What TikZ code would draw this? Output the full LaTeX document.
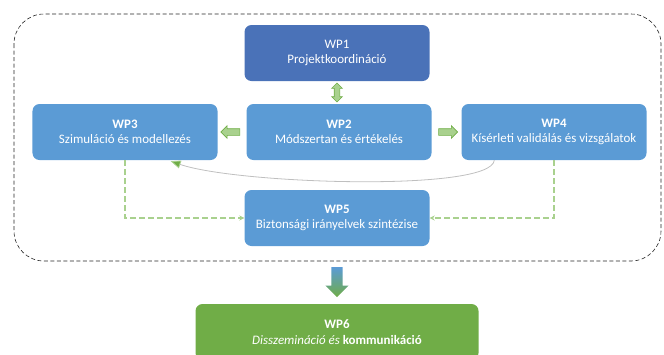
\documentclass[tikz,border=0pt]{standalone}
\usepackage{fontspec}
\setmainfont{Carlito}
\usetikzlibrary{shapes.arrows,arrows.meta,calc}
\definecolor{wpblue}{HTML}{5B9BD5}
\definecolor{wpdark}{HTML}{4A72B8}
\definecolor{wpgreen}{HTML}{70AD47}
\definecolor{lgreen}{HTML}{A9D18E}
\definecolor{frame}{HTML}{262626}
\tikzset{
  wpbox/.style={rounded corners=7bp, fill=wpblue, text=white, align=center,
    minimum width=185bp, minimum height=56bp, inner sep=0pt, font=\fontsize{13}{15.5}\selectfont},
  harrow/.style={single arrow, draw=wpgreen, fill=lgreen, line width=0.6bp,
    minimum width=12bp, minimum height=19bp, single arrow head extend=3bp, inner sep=3bp},
  vdarrow/.style={double arrow, draw=wpgreen, fill=lgreen, line width=0.6bp,
    minimum width=10bp, minimum height=19bp, double arrow head extend=2.5bp, inner sep=2.5bp,
    shape border rotate=90},
  dashlink/.style={draw=lgreen, line width=1.3bp, dash pattern=on 6bp off 3bp,
    -{Stealth[length=5bp,width=5bp,fill=wpgreen]}},
}
\begin{document}
\begin{tikzpicture}[x=1bp,y=-1bp]
\useasboundingbox (0,0) rectangle (664,354);
\clip (0,0) rectangle (664,354);
% frame
\draw[frame, dash pattern=on 4bp off 2.5bp, line width=0.6bp, rounded corners=30bp]
  (14,14) rectangle (661,261);
% boxes
\node[wpbox, fill=wpdark] (wp1) at (337,53) {WP1\\Projektkoordináció};
\node[wpbox] (wp2) at (339,132) {\textbf{WP2}\\Módszertan és értékelés};
\node[wpbox] (wp3) at (125,132) {\textbf{WP3}\\Szimuláció és modellezés};
\node[wpbox] (wp4) at (554,132) {\textbf{WP4}\\Kísérleti validálás és vizsgálatok};
\node[wpbox] (wp5) at (337,218) {\textbf{WP5}\\Biztonsági irányelvek szintézise};
\node[wpbox, fill=wpgreen, minimum width=283bp] (wp6) at (337,332)
  {\textbf{WP6}\\\textit{Disszemináció és} \textbf{kommunikáció}};
% block arrows
\node[vdarrow] (a12) at ($(wp1.south)!0.5!(wp2.north -| wp1.south)$) {};
\node[harrow, shape border rotate=180] (a23) at ($(wp2.west)!0.5!(wp3.east)$) {};
\node[harrow] (a24) at ($(wp2.east)!0.5!(wp4.west)$) {};
\coordinate (bigtop) at (337,267);
\node[single arrow, shape border rotate=270, top color=wpblue, bottom color=wpgreen,
  minimum width=23bp, minimum height=30bp, single arrow head extend=6bp, inner sep=5.5bp,
  anchor=tail] (big) at (bigtop) {};
% curved feedback
\draw[draw=black!25, line width=0.8bp, -{Triangle[length=10bp,width=8bp,fill=wpgreen,color=lgreen]}]
  ($(wp4.south west)+(33,0)$) .. controls ($(wp4.south west)+(30,32)$) and ($(wp3.south east)+(20,24)$) .. ($(wp3.south east)+(-47,1)$);
% dashed links
\draw[dashlink] (wp3.south) |- (wp5.west);
\draw[dashlink] (wp4.south) |- (wp5.east);
\end{tikzpicture}
\end{document}
